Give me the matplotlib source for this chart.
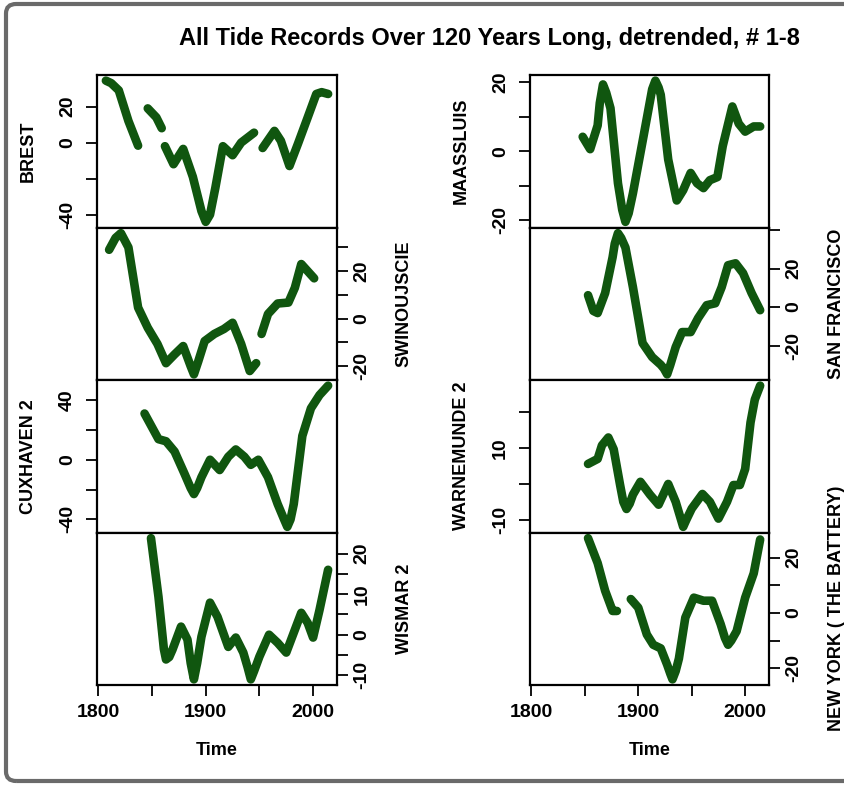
import numpy as np
import matplotlib.pyplot as plt
from matplotlib.patches import FancyBboxPatch

plt.rcParams['font.family'] = ['Liberation Sans', 'DejaVu Sans']
plt.rcParams['font.weight'] = 'bold'

NA = np.nan
line_color = '#10560f'

# ---- data (years, detrended sea level) ----
brest_years = [1807, 1812, 1819, 1828, 1837, 1840, 1846, 1854, 1859, 1860,
               1862, 1870, 1879, 1888, 1896, 1900, 1904, 1909, 1916, 1925, 1933, 1945, 1948,
               1953, 1964, 1970, 1978, 1986, 1995, 2003, 2008, 2014]
brest_vals = [34.4, 33, 29, 12, -1.7, NA, 19, 14, 8, NA,
              -2, -12, -3.5, -19, -38, -44, -40, -25, -2, -7, 0, 5.5, NA,
              -3, 6.5, 1, -13, -0.5, 14, 27, 28, 27]

swin_years = [1810, 1816, 1821, 1828, 1837, 1846, 1855, 1863, 1871, 1879, 1886, 1889, 1893, 1899,
              1908, 1917, 1925, 1933, 1941, 1947, 1949,
              1952, 1958, 1967, 1977, 1983, 1989, 1995, 2001]
swin_vals = [29, 34, 36, 30, 4.7, -3.8, -10.6, -18.7, -15, -11.5, -20, -23.4, -18, -9.4,
             -6.4, -4.3, -1.7, -10.6, -22, -18.7, NA,
             -6.4, 2, 6.4, 6.8, 13, 23, 20, 17]

cux_years = [1843, 1856, 1863, 1871, 1880, 1886, 1889, 1892, 1896, 1904, 1913, 1921, 1928,
             1936, 1942, 1949, 1958, 1967, 1973, 1976, 1979, 1982, 1990, 1998, 2006, 2014]
cux_vals = [31, 13.8, 12.4, 5.5, -9, -19, -23, -19, -11.7, 0, -6.9, 2, 6.9,
            2, -3.4, 0, -11.7, -29.7, -40, -45, -40, -29.7, 16, 34.5, 43.4, 49.7]

wis_years = [1849, 1856, 1861, 1863, 1866, 1869, 1877, 1883, 1886, 1889, 1892, 1896, 1904, 1911, 1921,
             1928, 1935, 1939, 1942, 1945, 1950, 1959, 1967, 1975, 1982, 1989, 1995, 2000,
             2006, 2014]
wis_vals = [23.8, 9.3, -3.5, -6.1, -5.5, -3.7, 2, -1.2, -7, -11, -7, -0.5, 7.9, 4.4, -3,
            -0.7, -4.4, -8, -11, -9, -5.4, 0, -2, -4.4, 0.5, 5.4, 2.9, -0.7,
            6.1, 16]

maas_years = [1848, 1855, 1862, 1864, 1867, 1870, 1874, 1881, 1885, 1888, 1891, 1895, 1905, 1913, 1916,
              1919, 1921, 1928, 1936, 1942, 1949, 1955, 1961, 1967, 1974, 1979, 1988, 1994,
              2000, 2008, 2014]
maas_vals = [4.2, 0.6, 7.5, 14, 19.4, 17, 12.5, -9.3, -17, -20.5, -18, -12.2, 4.5, 18, 20.5,
             18.5, 16.4, -2.4, -14.3, -11.3, -6.3, -9.3, -10.7, -8.4, -7.5, 1.5, 13, 8,
             5.7, 7.2, 7.2]

sf_years = [1853, 1858, 1862, 1869, 1876, 1878, 1881, 1884, 1888, 1895, 1904, 1913, 1921, 1924, 1927,
            1930, 1935, 1941, 1949, 1956, 1964, 1972, 1978, 1984, 1991, 1998, 2006, 2014]
sf_vals = [6.2, -2, -3.1, 7.3, 26, 33, 38.5, 36, 31, 10.4, -18.7, -26, -30, -32, -35,
           -30, -20.8, -13, -13, -5.7, 1, 2, 10.4, 21.8, 22.8, 17.7, 7.3, -1.6]

warn_years = [1853, 1862, 1866, 1872, 1877, 1883, 1886, 1889, 1892, 1895, 1902, 1911, 1919,
              1928, 1935, 1939, 1942, 1945, 1950, 1960, 1967, 1975, 1983, 1989, 1995, 2000,
              2005, 2009, 2014]
warn_vals = [5.6, 7, 10.8, 13, 9.7, -0.3, -5, -7, -5.5, -3, 0.6, -3, -5.8,
             0, -5, -9, -12, -10, -6.9, -2.8, -5, -9.7, -5, -0.3, -0.3, 4.2,
             17.2, 23.6, 27.5]

ny_years = [1853, 1862, 1869, 1876, 1880, 1886,
            1893, 1900, 1908, 1914, 1921, 1927, 1930, 1932, 1935, 1938, 1944, 1952, 1961,
            1969, 1977, 1981, 1984, 1987, 1992, 2000, 2008, 2014]
ny_vals = [27, 18, 8, 0.7, 0.7, NA,
           5, 1.9, -7.8, -11.5, -12.8, -18.7, -22, -24, -21, -16.5, -1.7, 5.5, 4.4,
           4.4, -4, -9, -11.5, -10, -6.6, 5.5, 14.3, 26.5]

# name, years, values, y ticks, y tick labels
left_col = [
    ('BREST', brest_years, brest_vals, [-40, -20, 0, 20], ['-40', '', '0', '20']),
    ('SWINOUJSCIE', swin_years, swin_vals, [-20, -10, 0, 10, 20, 30], ['-20', '', '0', '', '20', '']),
    ('CUXHAVEN 2', cux_years, cux_vals, [-40, -20, 0, 20, 40], ['-40', '', '0', '', '40']),
    ('WISMAR 2', wis_years, wis_vals, [-10, -5, 0, 5, 10, 15, 20], ['-10', '', '0', '', '10', '', '20']),
]
right_col = [
    ('MAASSLUIS', maas_years, maas_vals, [-20, -10, 0, 10, 20], ['-20', '', '0', '', '20']),
    ('SAN FRANCISCO', sf_years, sf_vals, [-20, 0, 20, 40], ['-20', '0', '20', '']),
    ('WARNEMUNDE 2', warn_years, warn_vals, [-10, 0, 10, 20], ['-10', '', '10', '']),
    ('NEW YORK ( THE BATTERY)', ny_years, ny_vals, [-20, -10, 0, 10, 20], ['-20', '', '0', '', '20']),
]

x_ticks = [1800, 1850, 1900, 1950, 2000]
x_labels = ['1800', '', '1900', '', '2000']

W, H = 845, 785
fig = plt.figure(figsize=(W / 100, H / 100), dpi=100)

# grey frame of the screenshot
frame = FancyBboxPatch((6 / W, 4 / H), 1.2, 1 - 8 / H, boxstyle='round,pad=0,rounding_size=0.012',
                       transform=fig.transFigure, facecolor='none', edgecolor='#6a6a6a', lw=3)
fig.add_artist(frame)

all_years = [y for col in (left_col, right_col) for s in col for y in s[1]]
span = max(all_years) - min(all_years)
xlim = (min(all_years) - 0.04 * span, max(all_years) + 0.04 * span)

top_px, panel_h = 75, 152.5
col_x = [(97, 240), (530, 239)]

for c, col in enumerate((left_col, right_col)):
    x0, w = col_x[c]
    for i, (name, yrs, vals, yt, ytl) in enumerate(col):
        bottom = 1 - (top_px + (i + 1) * panel_h) / H
        ax = fig.add_axes([x0 / W, bottom, w / W, panel_h / H])
        ax.plot(yrs, vals, color=line_color, lw=6.2, solid_capstyle='round',
                solid_joinstyle='round')
        ax.set_xlim(*xlim)
        ax.margins(y=0.04)
        ax.set_yticks(yt)
        ax.set_yticklabels(ytl, rotation=90, va='center', fontsize=14)
        for sp in ax.spines.values():
            sp.set_linewidth(1.6)
        ax.tick_params(axis='both', length=8, width=1.3)
        if i % 2 == 0:
            ax.tick_params(axis='y', pad=7)
            ax.set_ylabel(name, fontsize=13, fontweight='bold')
            ax.yaxis.set_label_coords(-0.252, 0.5)
        else:
            ax.yaxis.tick_right()
            ax.tick_params(axis='y', pad=4)
            ax.yaxis.set_label_position('right')
            ax.set_ylabel(name, fontsize=13, fontweight='bold')
            ax.yaxis.set_label_coords(1.245, 0.5)
        if i == 3:
            ax.set_xticks(x_ticks)
            ax.set_xticklabels(x_labels, fontsize=14)
            ax.tick_params(axis='x', pad=6)
            ax.set_xlabel('Time', fontsize=13, fontweight='bold', labelpad=15)
        else:
            ax.set_xticks([])

fig.text(489 / W, 1 - 38 / H, 'All Tide Records Over 120 Years Long, detrended, # 1-8',
         ha='center', va='center', fontsize=17, fontweight='bold')

fig.savefig('out.png', dpi=100)
